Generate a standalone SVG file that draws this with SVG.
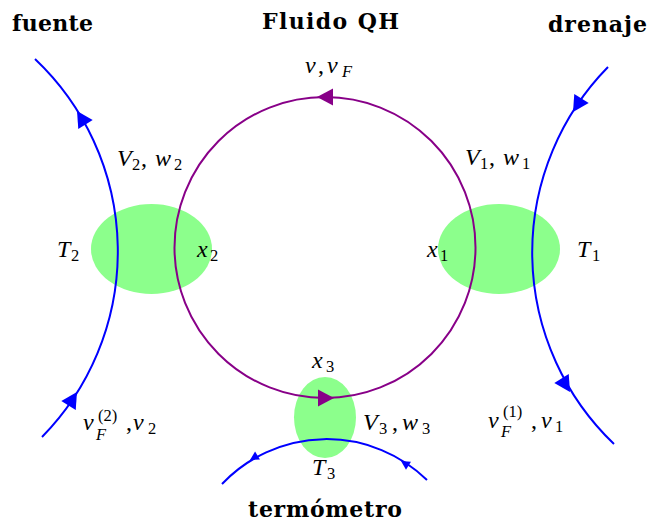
<svg xmlns="http://www.w3.org/2000/svg" xmlns:xlink="http://www.w3.org/1999/xlink" width="649" height="525" viewBox="0 0 649 525">
<style>
.contact{fill:#8cff8c;stroke:none}
.edge{fill:none;stroke-width:2}
.blue{stroke:#0000ff}
.purple{stroke:#880088}
.bl{font-family:"DejaVu Serif","Liberation Serif",serif;font-weight:bold;font-size:22px;fill:#000}
.m{font-family:"Liberation Serif","Times New Roman","DejaVu Serif",serif;font-style:italic;font-size:24px;fill:#000}
.s{font-size:16.5px;font-style:normal}
.si{font-size:16.5px}
.up{font-style:normal}
</style>
<defs>
<path id="ah" d="M0,0 L-16,-8.5 L-16,8.5 Z"/>
</defs>
<g id="contacto2"><ellipse class="contact" cx="151.5" cy="249" rx="60.5" ry="45"/></g>
<g id="contacto1"><ellipse class="contact" cx="499" cy="249" rx="61" ry="45"/></g>
<g id="contacto3"><ellipse class="contact" cx="325" cy="417.5" rx="31" ry="40.5"/></g>
<g id="connectors">
<circle class="edge purple" cx="325" cy="247.5" r="150.5"/>
<path class="edge blue" d="M 42 437 A 265 265 0 0 0 35 59"/>
<path class="edge blue" d="M 608 67 A 265 265 0 0 0 614 444"/>
<path class="edge blue" d="M 427 480 A 144 144 0 0 0 222 484"/>
<use xlink:href="#ah" fill="#880088" transform="translate(317,97) rotate(180)"/>
<use xlink:href="#ah" fill="#880088" transform="translate(334,398)"/>
<use xlink:href="#ah" fill="#0000ff" transform="translate(77,111) rotate(-122)"/>
<use xlink:href="#ah" fill="#0000ff" transform="translate(77,392) rotate(-58)"/>
<use xlink:href="#ah" fill="#0000ff" transform="translate(573,112) rotate(122)"/>
<use xlink:href="#ah" fill="#0000ff" transform="translate(570,392) rotate(58)"/>
<use xlink:href="#ah" fill="#0000ff" transform="translate(250,460) rotate(148.6) scale(0.55)"/>
<use xlink:href="#ah" fill="#0000ff" transform="translate(401,461) rotate(212) scale(0.55)"/>
</g>
<g id="titles">
<text class="bl" x="12" y="31" textLength="81">fuente</text>
<text class="bl" x="262" y="29" textLength="137">Fluido QH</text>
<text class="bl" x="548" y="32" textLength="99">drenaje</text>
<text class="bl" x="248" y="517" textLength="154">termómetro</text>
</g>
<g id="labels">
<text class="m"><tspan x="117" y="166">V</tspan><tspan class="s" x="132" y="170">2</tspan><tspan class="up" x="141" y="166">,</tspan><tspan x="155" y="166">w</tspan><tspan class="s" x="174" y="170">2</tspan></text>
<text class="m"><tspan x="465" y="165">V</tspan><tspan class="s" x="480" y="169">1</tspan><tspan class="up" x="489" y="165">,</tspan><tspan x="503" y="165">w</tspan><tspan class="s" x="522" y="169">1</tspan></text>
<text class="m"><tspan x="305" y="73">ν</tspan><tspan class="up" x="318" y="73">,</tspan><tspan x="327" y="73">v</tspan><tspan class="si" x="342" y="77">F</tspan></text>
<text class="m"><tspan x="57" y="257">T</tspan><tspan class="s" x="71" y="261">2</tspan></text>
<text class="m"><tspan x="197" y="257">x</tspan><tspan class="s" x="210" y="261">2</tspan></text>
<text class="m"><tspan x="427" y="257">x</tspan><tspan class="s" x="440" y="261">1</tspan></text>
<text class="m"><tspan x="577" y="257">T</tspan><tspan class="s" x="592" y="261">1</tspan></text>
<text class="m"><tspan x="312" y="368">x</tspan><tspan class="s" x="326" y="372">3</tspan></text>
<text class="m"><tspan x="363" y="430">V</tspan><tspan class="s" x="379" y="434">3</tspan><tspan class="up" x="392" y="430">,</tspan><tspan x="402" y="430">w</tspan><tspan class="s" x="422" y="434">3</tspan></text>
<text class="m"><tspan x="312" y="475">T</tspan><tspan class="s" x="327" y="479">3</tspan></text>
<text class="m"><tspan x="83" y="430">v</tspan><tspan class="si" x="96" y="440">F</tspan><tspan class="s" x="98" y="421">(2)</tspan><tspan class="up" x="126" y="430">,</tspan><tspan x="133" y="430">ν</tspan><tspan class="s" x="148" y="434">2</tspan></text>
<text class="m"><tspan x="488" y="428">v</tspan><tspan class="si" x="501" y="437">F</tspan><tspan class="s" x="503" y="417">(1)</tspan><tspan class="up" x="531" y="428">,</tspan><tspan x="541" y="428">ν</tspan><tspan class="s" x="555" y="432">1</tspan></text>
</g>
</svg>
